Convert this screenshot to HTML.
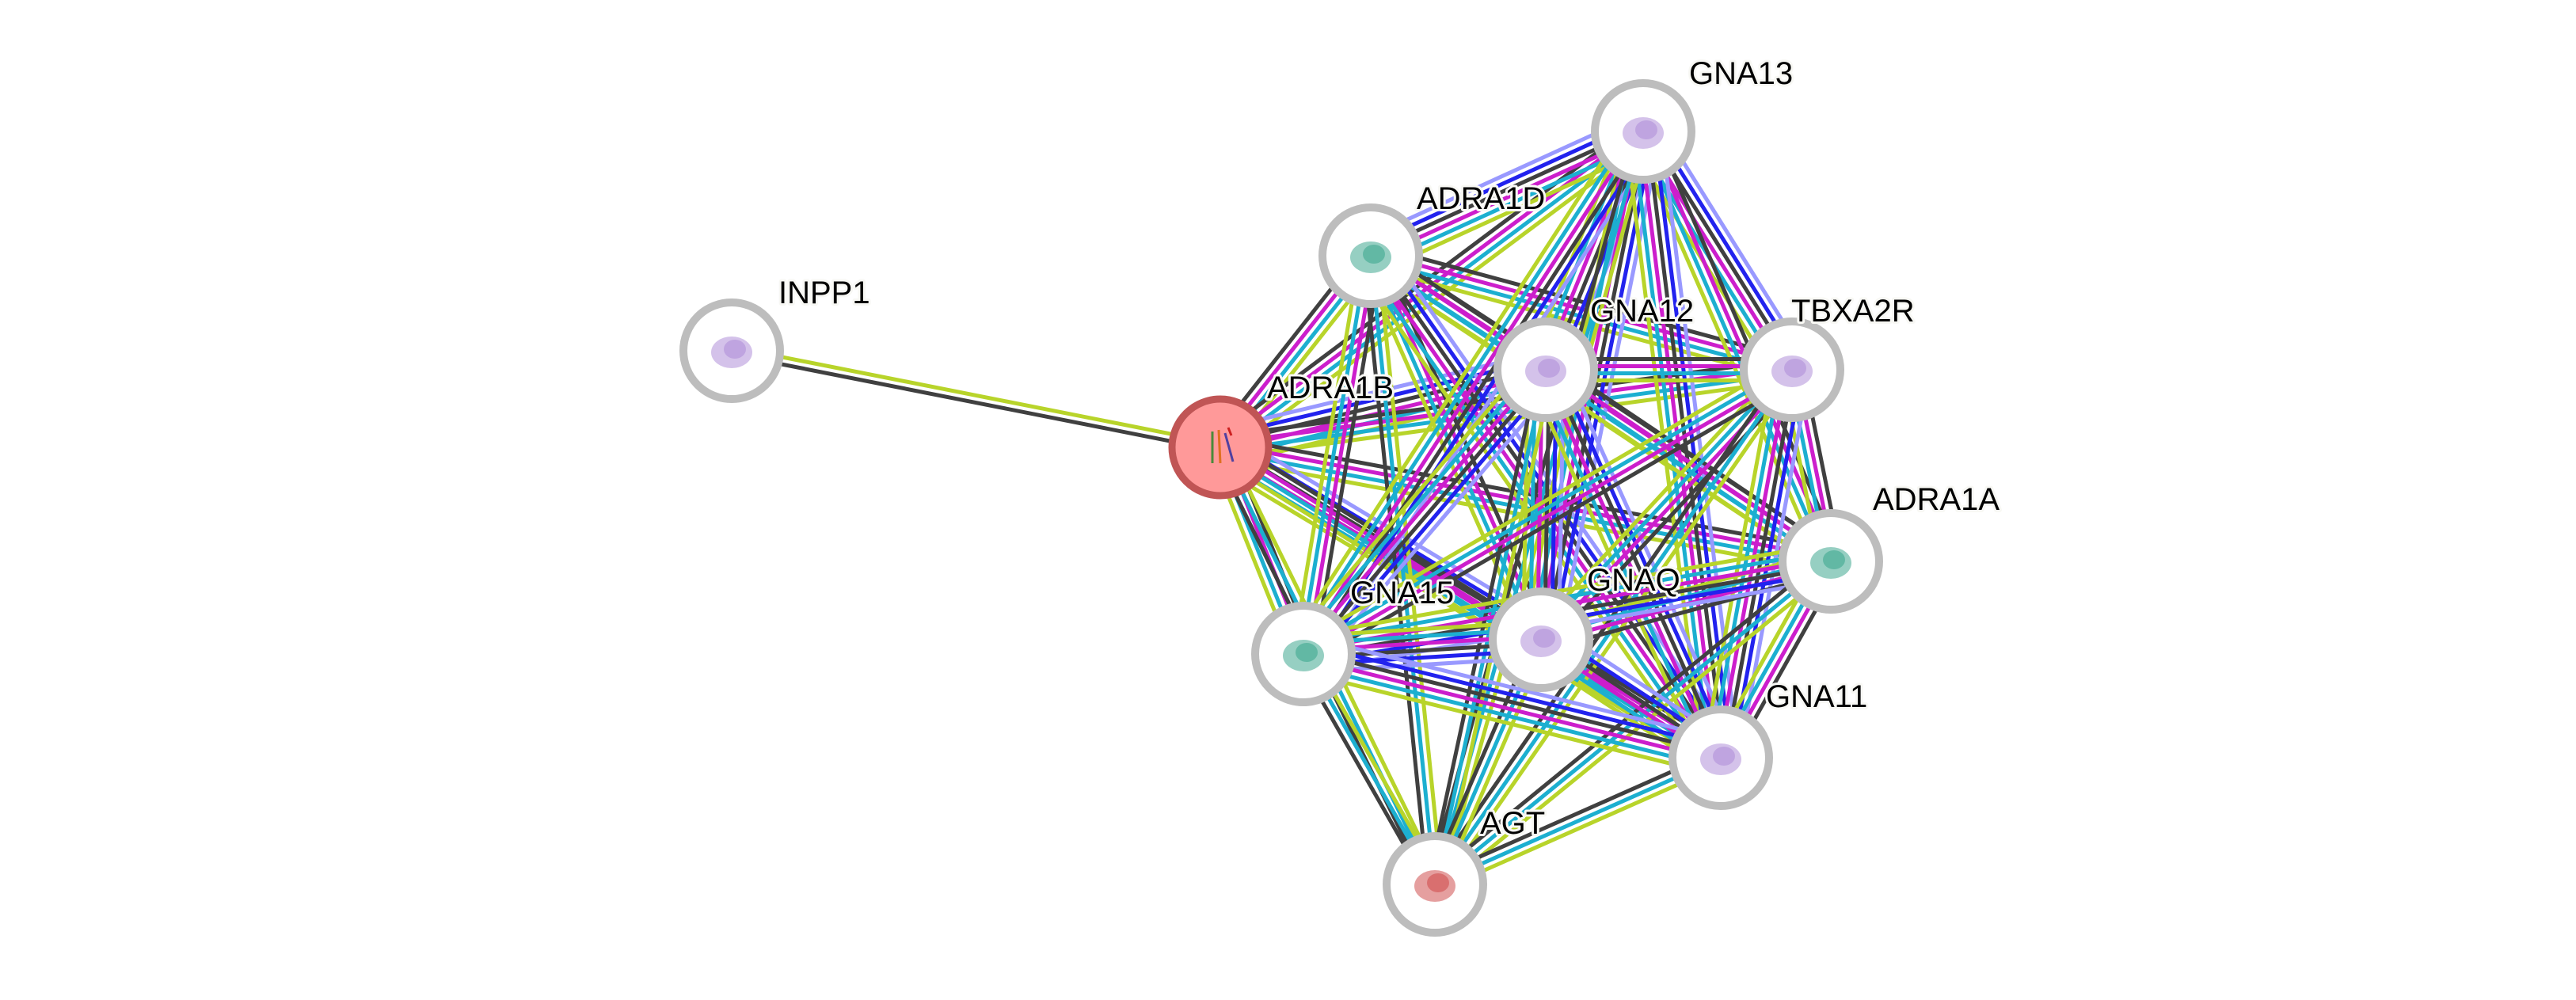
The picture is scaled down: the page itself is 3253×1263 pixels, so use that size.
<!DOCTYPE html>
<html><head><meta charset="utf-8">
<style>
html,body{margin:0;padding:0;background:#fff;}
svg{display:block;}
text{font-family:"Liberation Sans",sans-serif;font-size:40px;fill:#000;paint-order:stroke;stroke:#f8f8f4;stroke-width:6px;stroke-linejoin:round;}
</style></head>
<body>
<svg id="s" width="3253" height="1263" viewBox="0 0 3253 1263" xmlns="http://www.w3.org/2000/svg">
<g id="edges"></g>
<g id="nodes"></g>
<g id="labels">
<text x="2133" y="106">GNA13</text>
<text x="1789" y="264">ADRA1D</text>
<text x="983" y="383">INPP1</text>
<text x="2008" y="406">GNA12</text>
<text x="2262" y="406">TBXA2R</text>
<text x="1600" y="503">ADRA1B</text>
<text x="2365" y="644">ADRA1A</text>
<text x="2004" y="746">GNAQ</text>
<text x="1705" y="762">GNA15</text>
<text x="2230" y="893">GNA11</text>
<text x="1869" y="1053">AGT</text>
</g>
</svg>
<script>
var N={INPP1:[924,443],ADRA1B:[1541,565],ADRA1D:[1731,323],GNA13:[2075,166],GNA12:[1952,467],TBXA2R:[2263,467],ADRA1A:[2312,709],GNAQ:[1946,808],GNA15:[1646,826],GNA11:[2173,957],AGT:[1812,1117]};
var K='#404040',Y='#B8D42A',C='#1CAFD0',M='#CC1ECC',B='#2222EE',L='#9999FF';
var G=['GNA13','GNA12','GNAQ','GNA15','GNA11'];
var E=[['INPP1','ADRA1B',[Y,K]]];
var names=Object.keys(N).filter(function(n){return n!='INPP1';});
for(var i=0;i<names.length;i++)for(var j=i+1;j<names.length;j++){
 var a=names[i],b=names[j],c;
 var ga=G.indexOf(a)>=0,gb=G.indexOf(b)>=0;
 if(a=='AGT'||b=='AGT'){c=[Y,C,K];}
 else if(ga&&gb){c=[L,B,K,M,C,Y];}
 else if(ga||gb){c=[K,M,C,Y];if((i+j)%3==0)c=[L,B,K,M,C,Y];}
 else {c=[K,M,C,Y];}
 E.push([a,b,c]);
}
var eg=document.getElementById('edges'),h='';
E.forEach(function(e){
 var p=N[e[0]],q=N[e[1]],dx=q[0]-p[0],dy=q[1]-p[1],l=Math.hypot(dx,dy),nx=-dy/l,ny=dx/l,n=e[2].length;
 e[2].forEach(function(col,k){
  var o=(k-(n-1)/2)*9;
  h+='<line x1="'+(p[0]+nx*o)+'" y1="'+(p[1]+ny*o)+'" x2="'+(q[0]+nx*o)+'" y2="'+(q[1]+ny*o)+'" stroke="'+col+'" stroke-width="5"/>';
 });
});
eg.innerHTML=h;
var nh='';
for(var k in N){var p=N[k];
 if(k=='ADRA1B'){
  nh+='<circle cx="'+p[0]+'" cy="'+p[1]+'" r="61" fill="#FF9999" stroke="#C05555" stroke-width="9"/>';
  nh+='<g stroke-width="3" fill="none"><path d="M'+(p[0]-10)+' '+(p[1]-20)+' l0 40" stroke="#4a8a3a"/><path d="M'+(p[0]-2)+' '+(p[1]-22)+' l2 42" stroke="#e07020"/><path d="M'+(p[0]+6)+' '+(p[1]-18)+' l10 36" stroke="#5040a0"/><path d="M'+(p[0]+10)+' '+(p[1]-25)+' l4 10" stroke="#cc2020"/></g>';
 } else {
  nh+='<circle cx="'+p[0]+'" cy="'+p[1]+'" r="61" fill="#fff" stroke="#bdbdbd" stroke-width="10"/>';
  var col=k=='AGT'?'#d05050':(k=='ADRA1D'||k=='ADRA1A'||k=='GNA15'?'#40a890':'#b090d8');
  nh+='<ellipse cx="'+p[0]+'" cy="'+(p[1]+2)+'" rx="26" ry="20" fill="'+col+'" opacity="0.55"/>';
  nh+='<ellipse cx="'+(p[0]+4)+'" cy="'+(p[1]-2)+'" rx="14" ry="12" fill="'+col+'" opacity="0.6"/>';
 }
}
document.getElementById('nodes').innerHTML=nh;
</script>
</body></html>
